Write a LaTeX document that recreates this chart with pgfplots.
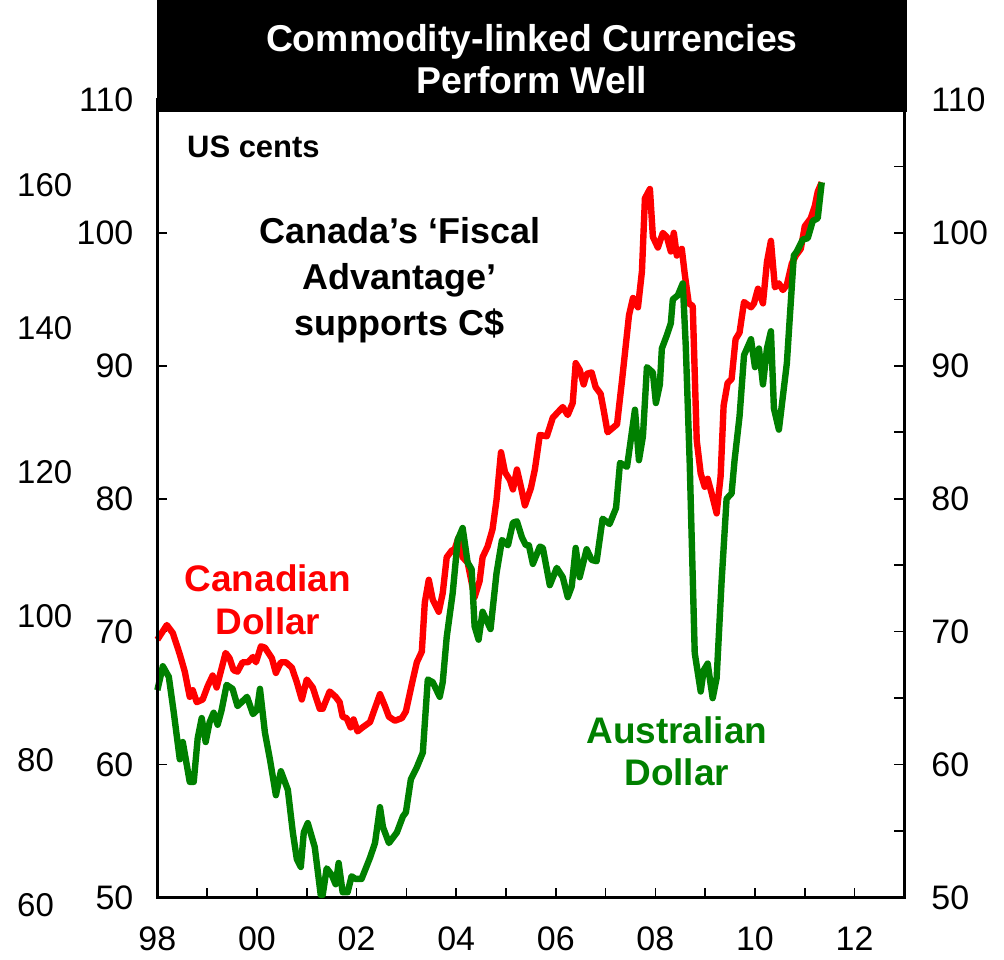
\documentclass[border=0pt]{standalone}
\usepackage{fontspec}
\setmainfont{Liberation Sans}
\usepackage{pgfplots}
\pgfplotsset{compat=1.18}
\definecolor{cadred}{RGB}{255,0,0}
\definecolor{audgreen}{RGB}{0,128,0}

\begin{document}
\begin{tikzpicture}
\pgfplotsset{
  base/.style={
    width=373.7pt, height=399pt, scale only axis,
    xmin=1998, xmax=2013, ymin=50, ymax=110,
    axis line style={line width=1.5pt},
    tick style={line width=0.8pt, black},
    major tick length=5pt, minor tick length=5pt, tick align=inside,
    /pgf/number format/assume math mode=true,
    ticklabel style={font=\fontsize{17}{17}\selectfont},
    clip=false,
  },
}
\tikzset{outerlab/.style={anchor=west, font=\fontsize{16.5}{16.5}\selectfont, inner sep=0pt, xshift=-70.3pt}}
% main axis: left scale, years, the two series
\begin{axis}[base,
    xtick={1998,2000,...,2012},
    xticklabels={98,00,02,04,06,08,10,12},
    minor xtick={1999,2001,...,2013},
    xtick pos=bottom,
    xticklabel style={yshift=-11pt},
    ytick={50,60,...,110},
    ytick pos=left,
    yticklabel style={xshift=-8.5pt},
  ]
  % Canadian dollar, US cents
  \addplot[cadred, line width=3.2pt, line join=round] coordinates {
    (1998.00,69.4)(1998.19,70.5)(1998.31,69.9)(1998.45,68.3)(1998.55,67.0)(1998.65,65.1)
    (1998.71,65.6)(1998.79,64.7)(1998.91,64.9)(1999.01,65.9)(1999.11,66.7)(1999.19,65.8)
    (1999.37,68.4)(1999.45,68.0)(1999.53,67.1)(1999.61,67.0)(1999.71,67.7)(1999.82,67.7)
    (1999.92,68.1)(1999.98,67.7)(2000.08,68.9)(2000.16,68.8)(2000.30,68.0)(2000.38,66.9)
    (2000.48,67.7)(2000.58,67.7)(2000.70,67.3)(2000.80,66.2)(2000.90,64.9)(2001.00,66.4)
    (2001.12,65.8)(2001.26,64.2)(2001.32,64.2)(2001.46,65.5)(2001.58,65.1)(2001.66,64.7)
    (2001.72,63.6)(2001.80,63.5)(2001.88,62.8)(2001.94,63.4)(2002.02,62.5)(2002.12,62.8)
    (2002.27,63.2)(2002.47,65.3)(2002.57,64.4)(2002.65,63.6)(2002.77,63.3)(2002.91,63.5)
    (2002.99,64.0)(2003.13,66.4)(2003.21,67.7)(2003.31,68.5)(2003.37,72.2)(2003.45,73.9)
    (2003.53,72.4)(2003.65,71.5)(2003.73,72.9)(2003.81,75.6)(2003.91,76.1)(2003.97,76.2)
    (2004.05,77.1)(2004.13,75.6)(2004.23,75.2)(2004.37,72.6)(2004.47,73.8)(2004.53,75.6)
    (2004.63,76.4)(2004.73,77.7)(2004.81,79.9)(2004.90,83.5)(2004.98,82.0)(2005.08,81.4)
    (2005.14,80.7)(2005.22,82.2)(2005.30,80.9)(2005.38,79.5)(2005.50,80.8)(2005.58,82.2)
    (2005.68,84.8)(2005.82,84.7)(2005.94,86.1)(2006.04,86.5)(2006.14,86.9)(2006.24,86.3)
    (2006.34,87.2)(2006.40,90.2)(2006.48,89.7)(2006.56,88.6)(2006.62,89.4)(2006.72,89.5)
    (2006.80,88.4)(2006.90,87.9)(2006.96,86.7)(2007.04,85.0)(2007.23,85.6)(2007.33,88.9)
    (2007.47,93.8)(2007.55,95.1)(2007.65,94.4)(2007.73,97.1)(2007.79,102.6)(2007.89,103.3)
    (2007.95,99.7)(2008.05,98.9)(2008.15,100.0)(2008.23,99.7)(2008.31,98.6)(2008.37,100.0)
    (2008.43,98.3)(2008.53,98.8)(2008.59,96.9)(2008.67,94.7)(2008.75,94.5)(2008.83,84.4)
    (2008.91,81.9)(2008.99,80.9)(2009.05,81.5)(2009.13,80.4)(2009.23,78.9)(2009.31,81.7)
    (2009.37,87.0)(2009.45,88.7)(2009.53,89.0)(2009.61,92.0)(2009.69,92.5)(2009.78,94.8)
    (2009.92,94.4)(2009.98,94.7)(2010.06,95.8)(2010.16,94.7)(2010.24,97.8)(2010.32,99.4)
    (2010.40,95.9)(2010.48,96.2)(2010.56,95.7)(2010.64,96.1)(2010.74,97.7)(2010.82,98.3)
    (2010.92,98.8)(2011.00,100.5)(2011.12,101.1)(2011.20,102.0)(2011.26,103.1)(2011.34,103.8)
  };
  % Australian dollar, US cents
  \addplot[audgreen, line width=3.2pt, line join=round] coordinates {
    (1998.00,65.6)(1998.11,67.4)(1998.23,66.6)(1998.33,63.9)(1998.45,60.4)(1998.51,61.7)
    (1998.65,58.7)(1998.73,58.7)(1998.81,62.0)(1998.89,63.5)(1998.97,61.7)(1999.05,63.2)
    (1999.13,63.9)(1999.21,63.0)(1999.29,64.1)(1999.39,66.0)(1999.51,65.7)(1999.61,64.4)
    (1999.80,65.1)(1999.92,63.8)(2000.00,64.1)(2000.06,65.7)(2000.16,62.4)(2000.26,60.4)
    (2000.38,57.7)(2000.48,59.5)(2000.62,58.1)(2000.72,54.9)(2000.80,52.9)(2000.88,52.3)
    (2000.94,54.9)(2001.02,55.6)(2001.16,53.8)(2001.28,50.2)(2001.32,50.2)(2001.40,52.2)
    (2001.50,51.7)(2001.58,51.0)(2001.64,52.6)(2001.72,50.4)(2001.82,50.4)(2001.90,51.6)
    (2001.98,51.4)(2002.10,51.4)(2002.27,53.0)(2002.37,54.1)(2002.47,56.8)(2002.53,55.3)
    (2002.65,54.1)(2002.81,54.9)(2002.93,56.1)(2002.99,56.4)(2003.09,58.9)(2003.21,59.8)
    (2003.33,60.9)(2003.43,66.4)(2003.53,66.2)(2003.67,65.1)(2003.73,66.2)(2003.81,69.6)
    (2003.93,72.9)(2004.03,76.9)(2004.13,77.8)(2004.23,75.2)(2004.31,74.7)(2004.37,70.4)
    (2004.45,69.4)(2004.53,71.5)(2004.69,70.2)(2004.81,74.4)(2004.92,76.9)(2005.04,76.5)
    (2005.14,78.2)(2005.22,78.3)(2005.32,77.1)(2005.40,76.5)(2005.46,76.5)(2005.54,75.1)
    (2005.68,76.4)(2005.74,76.3)(2005.88,73.5)(2006.02,74.8)(2006.14,74.1)(2006.24,72.6)
    (2006.32,73.4)(2006.40,76.3)(2006.48,74.1)(2006.62,76.2)(2006.72,75.4)(2006.82,75.3)
    (2006.94,78.5)(2007.08,78.1)(2007.21,79.3)(2007.29,82.7)(2007.43,82.4)(2007.49,84.0)
    (2007.59,86.7)(2007.67,82.9)(2007.75,84.7)(2007.83,89.9)(2007.95,89.5)(2008.01,87.2)
    (2008.09,88.6)(2008.13,91.3)(2008.23,92.3)(2008.31,93.2)(2008.35,95.0)(2008.45,95.3)
    (2008.55,96.2)(2008.61,91.5)(2008.69,82.6)(2008.79,68.4)(2008.91,65.5)(2008.97,67.1)
    (2009.05,67.6)(2009.15,65.0)(2009.23,66.5)(2009.33,73.8)(2009.43,80.0)(2009.53,80.4)
    (2009.59,82.9)(2009.69,86.2)(2009.78,90.8)(2009.92,92.0)(2010.00,89.9)(2010.08,91.3)
    (2010.16,88.6)(2010.24,91.3)(2010.32,92.6)(2010.38,86.8)(2010.48,85.2)(2010.64,90.2)
    (2010.70,93.7)(2010.78,98.3)(2010.84,98.6)(2010.96,99.5)(2011.06,99.6)(2011.16,100.9)
    (2011.26,101.1)(2011.34,103.8)
  };
  % second, offset scale printed at the far left
  \node[outerlab] at (axis cs:1998,103.6) {160};
  \node[outerlab] at (axis cs:1998,92.85) {140};
  \node[outerlab] at (axis cs:1998,82.0) {120};
  \node[outerlab] at (axis cs:1998,71.15) {100};
  \node[outerlab] at (axis cs:1998,60.3) {80};
  \node[outerlab] at (axis cs:1998,49.45) {60};
  \node[anchor=west, font=\bfseries\fontsize{15.5}{18}\selectfont, inner sep=0pt]
    at (axis cs:1998.59,106.5) {US cents};
  \node[align=center, font=\bfseries\fontsize{18}{23}\selectfont]
    at (axis cs:2002.87,96.47) {Canada’s ‘Fiscal\\Advantage’\\supports C\$};
  \node[align=center, text=cadred, font=\bfseries\fontsize{18.5}{22}\selectfont]
    at (axis cs:2000.22,72.4) {Canadian\\Dollar};
  \node[align=center, text=audgreen, font=\bfseries\fontsize{18.5}{21}\selectfont]
    at (axis cs:2008.43,61.0) {Australian\\Dollar};
  % page extent
  \path (axis cs:1994.84,45.34) rectangle (axis cs:2015.0,117.52);
\end{axis}
% right scale
\begin{axis}[base,
    hide x axis,
    ytick={50,60,...,110},
    minor ytick={55,65,...,105},
    ytick pos=right,
    yticklabel style={xshift=10pt},
  ]
  \fill[black] (axis cs:1998,109.1) rectangle (axis cs:2013.05,117.52);
  \node[align=center, text=white, font=\bfseries\fontsize{18.7}{21}\selectfont]
    at (axis cs:2005.52,113.1) {Commodity-linked Currencies\\Perform Well};
\end{axis}
\end{tikzpicture}
\end{document}
